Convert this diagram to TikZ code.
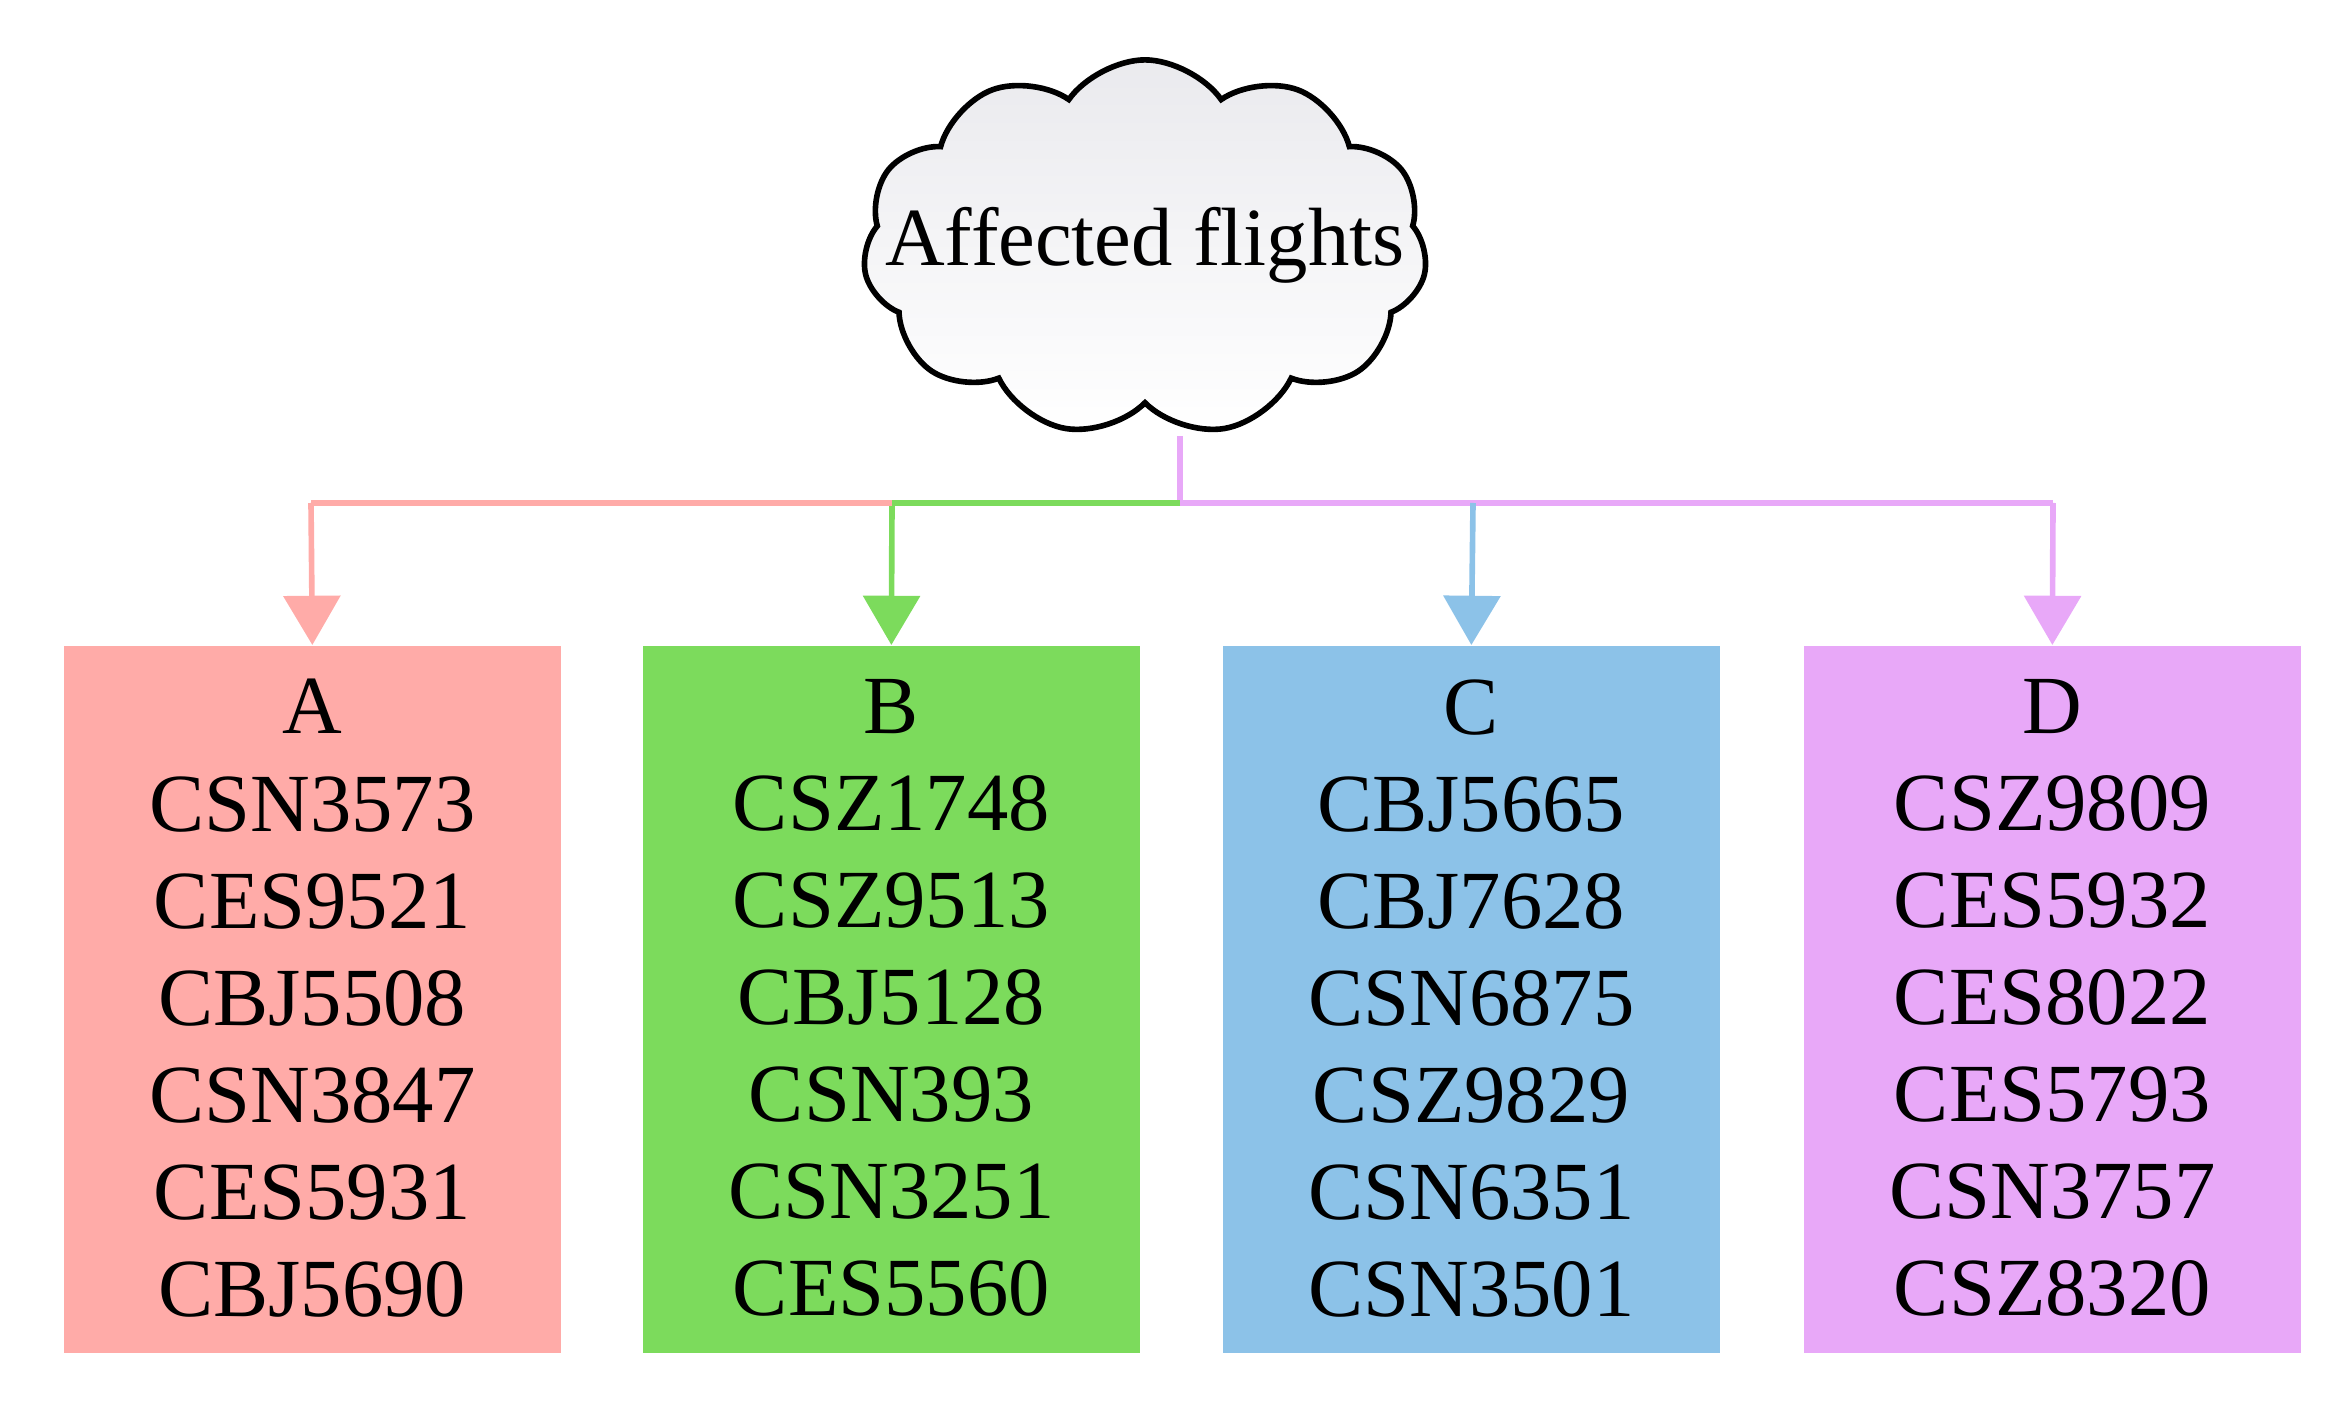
\documentclass[tikz,border=0pt]{standalone}
\usepackage{fontspec}
\setmainfont{Liberation Serif}
\usetikzlibrary{shapes.symbols,arrows.meta}
\definecolor{cA}{HTML}{FFABA8}
\definecolor{cB}{HTML}{7CDB5C}
\definecolor{cC}{HTML}{8CC2E8}
\definecolor{cD}{HTML}{E8A8F8}
\begin{document}
\begin{tikzpicture}[x=0.01cm,y=-0.01cm,
  box/.style={minimum width=4.97cm,minimum height=7.07cm,inner sep=0pt,anchor=north west},
  conn/.style={line width=1.6pt},
  arr/.style={conn,-{Triangle[length=14pt,width=16pt]}}]
\useasboundingbox (0,0) rectangle (2330,1407);
\node[cloud,cloud puffs=11,cloud puff arc=110,aspect=1.5,draw,line width=1.6pt,inner sep=0pt,minimum width=5.64cm,minimum height=3.76cm,top color=blue!10!gray!15,bottom color=white] (cl) at (1145,248) {};
\node[font=\fontsize{23.5}{28}\selectfont] (lbl) at (1145,245) {Affected flights};
\foreach \n/\x/\c/\a/\b/\cc/\d/\e/\f in {
 A/63/cA/CSN3573/CES9521/CBJ5508/CSN3847/CES5931/CBJ5690,
 B/642/cB/CSZ1748/CSZ9513/CBJ5128/CSN393/CSN3251/CES5560,
 C/1222/cC/CBJ5665/CBJ7628/CSN6875/CSZ9829/CSN6351/CSN3501,
 D/1803/cD/CSZ9809/CES5932/CES8022/CES5793/CSN3757/CSZ8320}{
 \node[box,fill=\c] (\n) at (\x,645) {};
 \node[font=\fontsize{23.5}{27.6}\selectfont,align=center,anchor=north] (t\n) at ([yshift=-0.22cm]\n.north) {\n\\\a\\\b\\\cc\\\d\\\e\\\f};
}
\coordinate (top) at (1180,436);
\coordinate (mid) at (1180,503);
\coordinate (pA) at (311,503);
\coordinate (pB) at (892,503);
\coordinate (pC) at (1473,503);
\coordinate (pD) at (2053,503);
\draw[conn,cD] (top) -- (mid) -- (pD);
\draw[arr,cD] (pD) -- (D.north);
\draw[arr,cC] (pC) -- (C.north);
\draw[conn,cB] (mid) -- (pB);
\draw[arr,cB] (pB) -- (B.north);
\draw[conn,cA] (pB) -- (pA);
\draw[arr,cA] (pA) -- (A.north);
\end{tikzpicture}
\end{document}
